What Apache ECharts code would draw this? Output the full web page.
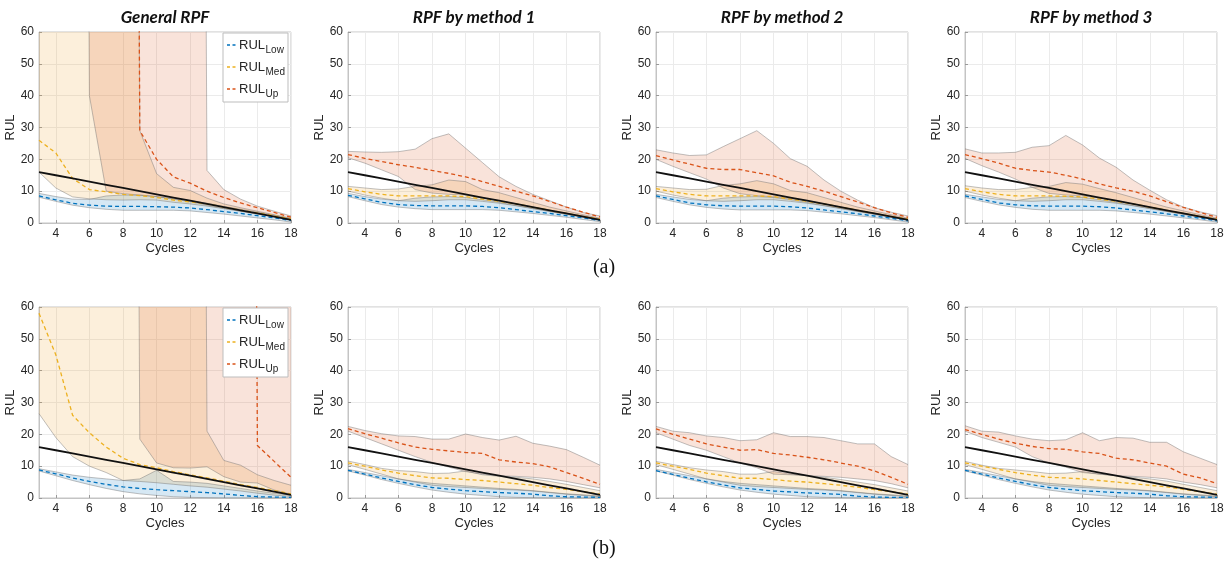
<!DOCTYPE html>
<html>
<head>
<meta charset="utf-8">
<script src="https://cdn.jsdelivr.net/npm/echarts@6/dist/echarts.min.js"></script>
<style>
  html, body { margin: 0; padding: 0; background: #fff; }
  #chart { width: 1229px; height: 566px; }
</style>
</head>
<body>
<div id="chart"></div>
<script>
// ---- data -------------------------------------------------------------
const cycles = [3, 4, 5, 6, 7, 8, 9, 10, 11, 12, 13, 14, 15, 16, 17, 18];
const OFF = 1000; // bound that runs off the top of the plot (unbounded)
const trueRUL = [16, 15, 14, 13, 12, 11, 10, 9, 8, 7, 6, 5, 4, 3, 2, 1];
const xTicks = [4, 6, 8, 10, 12, 14, 16, 18];
const panelTitles = ['General RPF', 'RPF by method 1', 'RPF by method 2', 'RPF by method 3'];
const rowTags = ['(a)', '(b)'];
const legendNames = ['RUL_Low', 'RUL_Med', 'RUL_Up'];

// (a) General RPF
const a0_lowLo  = [8.1, 6.8, 5.6, 4.8, 4.3, 4.0, 4.0, 4.0, 4.0, 3.8, 3.3, 2.8, 2.2, 1.6, 1.0, 0.3];
const a0_lowMid = [8.5, 7.3, 6.2, 5.6, 5.3, 5.2, 5.2, 5.1, 5.0, 4.7, 4.2, 3.6, 3.0, 2.3, 1.6, 0.8];
const a0_lowHi  = [9.3, 8.3, 7.5, 7.4, 8.5, 8.8, 8.7, 8.3, 7.5, 6.7, 5.6, 4.6, 3.7, 2.8, 2.0, 1.2];
const a0_medLo  = [16, 11, 8.2, 7.6, 7.3, 7.2, 7.3, 7.2, 6.5, 6.0, 5.3, 4.5, 3.7, 2.9, 2.0, 1.0];
const a0_medMid = [26, 22, 14, 10.5, 9.8, 9.0, 8.6, 8.0, 7.2, 6.6, 6.0, 5.0, 4.0, 3.2, 2.3, 1.3];
const a0_medHi  = [OFF, OFF, OFF, OFF, OFF, OFF, 29, 15.5, 11.2, 10.2, 7.8, 6.0, 4.8, 3.7, 2.6, 1.5];
const a0_upLo   = [OFF, OFF, OFF, 40, 10, 9.2, 8.8, 8.3, 7.6, 7.0, 6.2, 5.2, 4.3, 3.4, 2.4, 1.3];
const a0_upMid  = [OFF, OFF, OFF, OFF, OFF, OFF, 29, 20, 14.5, 12.5, 10, 8.0, 6.3, 4.8, 3.3, 1.8];
const a0_upHi   = [OFF, OFF, OFF, OFF, OFF, OFF, OFF, OFF, OFF, OFF, 16.5, 10.5, 7.5, 5.3, 3.7, 2.2];

// (a) RPF by method 1
const a1_lowLo  = [8.3, 7.0, 5.8, 5.0, 4.5, 4.2, 4.2, 4.2, 4.2, 4.0, 3.5, 3.0, 2.4, 1.8, 1.1, 0.4];
const a1_lowMid = [8.7, 7.6, 6.5, 5.8, 5.5, 5.4, 5.4, 5.4, 5.2, 4.8, 4.2, 3.6, 3.0, 2.3, 1.6, 0.8];
const a1_lowHi  = [9.3, 8.3, 7.5, 7.0, 7.8, 8.2, 8.3, 8.0, 7.3, 6.5, 5.5, 4.6, 3.7, 2.8, 2.0, 1.2];
const a1_medLo  = [10.0, 8.8, 7.8, 7.0, 6.8, 7.0, 7.3, 7.3, 6.8, 6.2, 5.4, 4.5, 3.6, 2.7, 1.8, 0.9];
const a1_medMid = [10.8, 9.8, 9.0, 8.5, 8.5, 8.5, 8.5, 8.3, 7.5, 6.8, 6.0, 5.0, 4.0, 3.0, 2.1, 1.2];
const a1_medHi  = [11.5, 11.0, 10.5, 10.7, 11.5, 12.0, 13.5, 13.0, 10.5, 9.5, 8.0, 6.5, 5.0, 3.8, 2.6, 1.5];
const a1_upLo   = [20.5, 18.8, 16.7, 14.6, 10.5, 9.4, 9.0, 8.8, 7.8, 7.0, 6.0, 5.0, 4.0, 3.0, 2.2, 1.2];
const a1_upMid  = [21.5, 20.3, 19.3, 18.3, 17.5, 16.5, 15.6, 14.5, 13.0, 11.5, 10.0, 8.5, 6.8, 5.0, 3.4, 1.9];
const a1_upHi   = [22.5, 22.3, 22.2, 22.4, 23.2, 26.5, 28.0, 23.5, 19.0, 14.5, 11.5, 9.0, 7.0, 5.0, 3.3, 2.2];

// (a) RPF by method 2
const a2_lowLo  = [8.0, 6.8, 5.7, 4.9, 4.4, 4.1, 4.1, 4.1, 4.1, 3.9, 3.4, 2.9, 2.3, 1.7, 1.0, 0.3];
const a2_lowMid = [8.5, 7.4, 6.3, 5.7, 5.4, 5.3, 5.3, 5.3, 5.1, 4.7, 4.1, 3.5, 2.9, 2.2, 1.5, 0.7];
const a2_lowHi  = [9.0, 8.2, 7.4, 7.0, 7.8, 8.2, 8.3, 8.0, 7.3, 6.5, 5.5, 4.6, 3.7, 2.8, 2.0, 1.2];
const a2_medLo  = [10.0, 8.8, 7.8, 7.0, 6.8, 7.0, 7.3, 7.3, 6.8, 6.2, 5.4, 4.5, 3.6, 2.7, 1.8, 0.9];
const a2_medMid = [10.8, 9.8, 9.0, 8.5, 8.5, 8.5, 8.5, 8.3, 7.5, 6.8, 6.0, 5.0, 4.0, 3.0, 2.1, 1.2];
const a2_medHi  = [11.5, 11.0, 10.5, 10.6, 11.8, 12.3, 13.3, 12.3, 10.2, 9.5, 8.0, 6.5, 5.0, 3.8, 2.6, 1.5];
const a2_upLo   = [20.0, 17.8, 15.8, 13.8, 11.0, 9.2, 8.6, 8.2, 7.6, 7.0, 6.0, 5.0, 4.0, 3.0, 2.1, 1.2];
const a2_upMid  = [21.2, 19.8, 18.5, 17.2, 16.8, 16.8, 15.8, 14.8, 12.8, 11.5, 10.0, 8.3, 6.6, 4.8, 3.2, 1.8];
const a2_upHi   = [23.0, 22.0, 21.2, 21.4, 24.0, 26.5, 29.0, 25.0, 20.2, 17.8, 13.5, 10.0, 7.2, 4.8, 3.4, 2.2];

// (a) RPF by method 3
const a3_lowLo  = [8.0, 6.8, 5.7, 4.9, 4.3, 4.0, 4.0, 4.0, 4.0, 3.8, 3.3, 2.8, 2.2, 1.6, 1.0, 0.3];
const a3_lowMid = [8.5, 7.4, 6.3, 5.7, 5.4, 5.3, 5.3, 5.3, 5.1, 4.7, 4.1, 3.5, 2.9, 2.2, 1.5, 0.7];
const a3_lowHi  = [9.0, 8.2, 7.4, 7.0, 7.8, 8.2, 8.3, 8.0, 7.3, 6.5, 5.5, 4.6, 3.7, 2.8, 2.0, 1.2];
const a3_medLo  = [10.0, 8.8, 7.8, 7.0, 6.8, 7.0, 7.3, 7.3, 6.8, 6.2, 5.4, 4.5, 3.6, 2.7, 1.8, 0.9];
const a3_medMid = [10.8, 9.8, 9.0, 8.5, 8.5, 8.5, 8.4, 8.2, 7.5, 6.8, 6.0, 5.0, 4.0, 3.0, 2.1, 1.2];
const a3_medHi  = [11.7, 11.0, 10.5, 10.5, 11.2, 11.5, 12.7, 12.2, 10.8, 9.5, 8.0, 6.5, 5.0, 3.8, 2.6, 1.5];
const a3_upLo   = [20.3, 18.0, 16.0, 13.8, 11.2, 9.3, 8.8, 8.5, 7.8, 7.0, 6.0, 5.0, 4.0, 3.0, 2.1, 1.2];
const a3_upMid  = [21.5, 20.2, 18.8, 17.2, 16.5, 16.0, 15.0, 13.8, 12.3, 11.0, 10.0, 8.5, 6.7, 4.9, 3.3, 1.8];
const a3_upHi   = [23.3, 22.0, 22.0, 22.2, 23.8, 24.3, 27.5, 24.5, 20.4, 17.5, 13.5, 10.3, 7.3, 5.0, 3.5, 2.3];

// (b) General RPF
const b0_lowLo  = [8.5, 7.0, 5.5, 4.2, 3.0, 2.0, 1.3, 0.8, 0.4, 0.2, 0.1, 0, 0, 0, 0, 0];
const b0_lowMid = [8.8, 7.6, 6.3, 5.2, 4.3, 3.5, 3.0, 2.6, 2.3, 2.0, 1.7, 1.3, 0.8, 0.4, 0.3, 0.2];
const b0_lowHi  = [9.2, 8.2, 7.2, 6.5, 6.0, 5.5, 6.0, 8.7, 5.2, 5.0, 4.6, 3.8, 3.0, 2.2, 1.5, 0.9];
const b0_medLo  = [26.5, 19.0, 13.0, 10.0, 8.0, 5.5, 5.2, 4.8, 4.3, 3.8, 3.4, 2.8, 2.2, 1.5, 0.9, 0.5];
const b0_medMid = [58, 45, 26, 20.5, 16, 12.5, 10.5, 9.5, 8.3, 7.3, 6.3, 5.3, 4.2, 3.3, 2.3, 1.3];
const b0_medHi  = [OFF, OFF, OFF, OFF, OFF, OFF, OFF, OFF, OFF, OFF, 21, 11.8, 10.3, 7.3, 5.5, 4.0];
const b0_upLo   = [OFF, OFF, OFF, OFF, OFF, OFF, 18.5, 11.0, 9.5, 9.4, 9.8, 6.7, 5.0, 4.7, 2.5, 1.2];
const b0_upMid  = [OFF, OFF, OFF, OFF, OFF, OFF, OFF, OFF, OFF, OFF, OFF, OFF, OFF, 16.5, 11.5, 6.5];
const b0_upHi   = [OFF, OFF, OFF, OFF, OFF, OFF, OFF, OFF, OFF, OFF, OFF, OFF, OFF, OFF, OFF, OFF];

// (b) RPF by method 1
const b1_lowLo  = [8.5, 7.2, 5.8, 4.6, 3.5, 2.5, 1.8, 1.2, 0.8, 0.4, 0.2, 0.1, 0, 0, 0, 0];
const b1_lowMid = [8.7, 7.5, 6.3, 5.2, 4.2, 3.3, 2.8, 2.3, 2.0, 1.7, 1.5, 1.2, 0.7, 0.4, 0.3, 0.2];
const b1_lowHi  = [9.0, 8.0, 7.0, 6.0, 5.2, 4.6, 4.2, 3.8, 3.4, 3.0, 2.7, 2.3, 1.8, 1.3, 1.0, 0.6];
const b1_medLo  = [10.5, 9.0, 7.5, 6.0, 5.0, 4.0, 3.6, 3.3, 3.0, 2.7, 2.5, 2.2, 1.7, 1.2, 0.8, 0.4];
const b1_medMid = [11.0, 10.0, 8.8, 7.8, 7.0, 6.3, 6.2, 5.8, 5.5, 5.0, 4.5, 4.0, 3.3, 2.7, 2.0, 1.2];
const b1_medHi  = [11.6, 10.5, 9.3, 8.6, 8.3, 7.7, 7.8, 8.5, 7.3, 6.8, 6.5, 6.0, 5.2, 4.3, 3.3, 2.3];
const b1_upLo   = [21.0, 19.0, 17.0, 15.0, 13.0, 11.2, 9.7, 8.3, 7.5, 7.0, 6.8, 6.5, 6.0, 5.2, 4.2, 3.2];
const b1_upMid  = [21.8, 20.2, 18.8, 17.3, 16.0, 15.3, 14.8, 14.3, 14.0, 12.0, 11.3, 10.8, 9.8, 8.0, 6.2, 4.3];
const b1_upHi   = [22.5, 21.2, 20.2, 19.5, 19.3, 18.5, 18.5, 20.1, 19.0, 18.2, 19.4, 17.2, 16.3, 15.2, 12.8, 10.3];

// (b) RPF by method 2
const b2_lowLo  = [8.5, 7.2, 5.8, 4.6, 3.5, 2.5, 1.8, 1.2, 0.8, 0.4, 0.2, 0.1, 0, 0, 0, 0];
const b2_lowMid = [8.6, 7.4, 6.2, 5.1, 4.1, 3.2, 2.7, 2.2, 1.9, 1.6, 1.4, 1.1, 0.6, 0.3, 0.2, 0.2];
const b2_lowHi  = [9.0, 8.0, 7.0, 6.0, 5.2, 4.6, 4.2, 3.8, 3.4, 3.0, 2.7, 2.3, 1.8, 1.3, 1.0, 0.6];
const b2_medLo  = [10.5, 9.0, 7.5, 6.0, 5.0, 4.0, 3.6, 3.3, 3.0, 2.7, 2.5, 2.2, 1.7, 1.2, 0.8, 0.4];
const b2_medMid = [11.0, 10.0, 9.0, 7.8, 7.0, 6.2, 6.2, 5.8, 5.3, 5.0, 4.5, 4.0, 3.4, 2.6, 2.0, 1.2];
const b2_medHi  = [11.5, 10.5, 9.5, 8.8, 8.3, 7.5, 7.5, 8.3, 7.5, 7.0, 6.5, 5.8, 5.0, 4.2, 3.2, 2.2];
const b2_upLo   = [20.5, 18.5, 16.5, 15.0, 13.0, 11.0, 9.5, 7.5, 7.3, 7.0, 6.8, 6.5, 6.0, 5.5, 4.5, 3.2];
const b2_upMid  = [21.7, 20.0, 18.5, 17.0, 16.0, 15.0, 15.2, 14.0, 13.5, 12.8, 12.0, 11.0, 10.0, 8.5, 6.5, 4.3];
const b2_upHi   = [22.5, 21.0, 20.5, 19.5, 19.0, 18.0, 18.3, 20.5, 19.3, 19.3, 19.0, 18.0, 17.0, 17.0, 13.0, 10.5];

// (b) RPF by method 3
const b3_lowLo  = [8.5, 7.2, 5.8, 4.6, 3.5, 2.5, 1.8, 1.2, 0.8, 0.4, 0.2, 0.1, 0, 0, 0, 0];
const b3_lowMid = [8.7, 7.5, 6.3, 5.2, 4.2, 3.3, 2.8, 2.3, 2.0, 1.7, 1.5, 1.2, 0.7, 0.4, 0.3, 0.2];
const b3_lowHi  = [9.0, 8.0, 7.0, 6.0, 5.2, 4.6, 4.2, 3.8, 3.4, 3.0, 2.7, 2.3, 1.8, 1.3, 1.0, 0.6];
const b3_medLo  = [10.5, 9.0, 7.5, 6.0, 5.0, 4.0, 3.6, 3.3, 3.0, 2.7, 2.5, 2.2, 1.7, 1.2, 0.8, 0.4];
const b3_medMid = [11.0, 10.0, 9.0, 8.0, 7.2, 6.5, 6.3, 6.0, 5.5, 5.0, 4.5, 4.0, 3.5, 2.7, 2.0, 1.2];
const b3_medHi  = [11.5, 10.3, 9.3, 8.8, 8.3, 7.7, 7.8, 8.3, 7.5, 7.0, 6.5, 6.0, 5.3, 4.3, 3.3, 2.3];
const b3_upLo   = [21.0, 19.0, 17.5, 16.0, 13.0, 11.0, 9.7, 8.0, 7.5, 7.0, 6.8, 6.5, 6.0, 5.0, 4.2, 3.2];
const b3_upMid  = [21.5, 20.0, 18.5, 17.2, 16.2, 15.5, 15.3, 14.5, 14.0, 12.5, 12.0, 11.0, 10.0, 7.5, 6.3, 4.5];
const b3_upHi   = [22.7, 21.0, 20.7, 19.5, 18.5, 18.0, 18.3, 20.5, 18.0, 19.0, 18.8, 17.5, 17.5, 14.5, 12.5, 10.5];

// ---- panel list (row-major: (a) then (b)) -------------------------------
const panels = [
  [a0_lowLo, a0_lowMid, a0_lowHi, a0_medLo, a0_medMid, a0_medHi, a0_upLo, a0_upMid, a0_upHi],
  [a1_lowLo, a1_lowMid, a1_lowHi, a1_medLo, a1_medMid, a1_medHi, a1_upLo, a1_upMid, a1_upHi],
  [a2_lowLo, a2_lowMid, a2_lowHi, a2_medLo, a2_medMid, a2_medHi, a2_upLo, a2_upMid, a2_upHi],
  [a3_lowLo, a3_lowMid, a3_lowHi, a3_medLo, a3_medMid, a3_medHi, a3_upLo, a3_upMid, a3_upHi],
  [b0_lowLo, b0_lowMid, b0_lowHi, b0_medLo, b0_medMid, b0_medHi, b0_upLo, b0_upMid, b0_upHi],
  [b1_lowLo, b1_lowMid, b1_lowHi, b1_medLo, b1_medMid, b1_medHi, b1_upLo, b1_upMid, b1_upHi],
  [b2_lowLo, b2_lowMid, b2_lowHi, b2_medLo, b2_medMid, b2_medHi, b2_upLo, b2_upMid, b2_upHi],
  [b3_lowLo, b3_lowMid, b3_lowHi, b3_medLo, b3_medMid, b3_medHi, b3_upLo, b3_upMid, b3_upHi]
];

// ---- styling / layout -------------------------------------------------
const FONT = '"Liberation Sans", Arial, Helvetica, sans-serif';
const TICK_COLOR = '#262626';
const colors = { low: '#0072BD', med: '#EDB120', up: '#D95319' };
const fills = {
  low: 'rgba(0,114,189,0.16)',
  med: 'rgba(237,160,40,0.17)',
  up: 'rgba(217,83,25,0.16)'
};
const EDGE = 'rgba(110,110,110,0.55)';
const colLeft = [39, 348, 656, 965];
const rowTop = [32, 307];
const plotW = 252, plotH = 191;

const pairs = arr => cycles.map((c, i) => [c, arr[i]]);

const grids = [], xAxes = [], yAxes = [], series = [];

panels.forEach((p, k) => {
  const col = k % 4, row = Math.floor(k / 4);
  grids.push({
    left: colLeft[col], top: rowTop[row], width: plotW, height: plotH,
    show: true, borderColor: '#c4c4c4', borderWidth: 1, backgroundColor: '#fff'
  });
  xAxes.push({
    gridIndex: k, type: 'value', min: 3, max: 18,
    name: 'Cycles', nameLocation: 'middle', nameGap: 19,
    nameTextStyle: { fontFamily: FONT, fontSize: 13, color: TICK_COLOR },
    axisLine: { show: true, lineStyle: { color: '#c4c4c4' } },
    axisTick: { show: true, inside: true, length: 3, customValues: xTicks, lineStyle: { color: '#9a9a9a' } },
    axisLabel: { customValues: xTicks, fontFamily: FONT, fontSize: 12, color: TICK_COLOR, margin: 5 },
    splitLine: { show: true, lineStyle: { color: '#ebebeb', width: 1 } }
  });
  yAxes.push({
    gridIndex: k, type: 'value', min: 0, max: 60, interval: 10,
    name: 'RUL', nameLocation: 'middle', nameGap: 18, nameRotate: 90,
    nameTextStyle: { fontFamily: FONT, fontSize: 13, color: TICK_COLOR },
    axisLine: { show: true, lineStyle: { color: '#c4c4c4' } },
    axisTick: { show: true, inside: true, length: 3, lineStyle: { color: '#9a9a9a' } },
    axisLabel: { fontFamily: FONT, fontSize: 12, color: TICK_COLOR, margin: 5 },
    splitLine: { show: true, lineStyle: { color: '#ebebeb', width: 1 } }
  });

  const [lowLo, lowMid, lowHi, medLo, medMid, medHi, upLo, upMid, upHi] = p;
  const base = { type: 'line', xAxisIndex: k, yAxisIndex: k, symbol: 'none', silent: true, animation: false };

  // shaded interval between lo and hi, drawn as one polygon in axis coordinates
  const band = (key, lo, hi) => {
    series.push({
      type: 'custom', xAxisIndex: k, yAxisIndex: k, silent: true, z: 1, animation: false,
      data: cycles.map((c, i) => [c, lo[i], hi[i]]),
      encode: { x: 0, y: [1, 2] },
      renderItem: (params, api) => {
        if (params.dataIndex !== 0) return null;
        const upper = cycles.map((c, i) => api.coord([c, hi[i]]));
        const lower = cycles.map((c, i) => api.coord([c, lo[i]])).reverse();
        const cs = params.coordSys;
        return {
          type: 'polygon',
          shape: { points: upper.concat(lower) },
          style: { fill: fills[key], stroke: null },
          clipPath: { type: 'rect', shape: { x: cs.x, y: cs.y, width: cs.width, height: cs.height } }
        };
      }
    });
    [lo, hi].forEach(edge => series.push(Object.assign({}, base, {
      name: 'edge', z: 2, data: pairs(edge),
      lineStyle: { color: EDGE, width: 0.8 }
    })));
  };
  band('low', lowLo, lowHi);
  band('med', medLo, medHi);
  band('up', upLo, upHi);

  const dashed = (name, key, arr) => series.push(Object.assign({}, base, {
    name, z: 3, data: pairs(arr),
    itemStyle: { color: colors[key] },
    lineStyle: { color: colors[key], width: 1.3, type: [4, 3] }
  }));
  dashed(legendNames[0], 'low', lowMid);
  dashed(legendNames[1], 'med', medMid);
  dashed(legendNames[2], 'up', upMid);

  series.push(Object.assign({}, base, {
    name: 'true', z: 4, data: pairs(trueRUL),
    lineStyle: { color: '#111', width: 1.8 }
  }));
});

// legend box for the "General RPF" panel of each row (drawn above the plot)
const legendKeys = ['low', 'med', 'up'];
const measure = (() => {
  const ctx = document.createElement('canvas').getContext('2d');
  return (txt, font) => { ctx.font = font; return ctx.measureText(txt).width; };
})();
const MAIN_FONT = '13px "Liberation Sans", Arial, sans-serif';
const SUB_FONT = '10px "Liberation Sans", Arial, sans-serif';
const legendBox = (left, top) => {
  const els = [{
    type: 'rect', z: 100, shape: { x: left, y: top, width: 65, height: 69 },
    style: { fill: '#fff', stroke: '#bdbdbd', lineWidth: 1 }
  }];
  legendNames.forEach((n, i) => {
    const cy = top + 12 + i * 22;
    const [mainTxt, subTxt] = n.split('_');
    const tx = left + 16;
    els.push({ type: 'line', z: 101, shape: { x1: left + 4, y1: cy, x2: left + 13, y2: cy },
      style: { stroke: colors[legendKeys[i]], lineWidth: 1.3, lineDash: [3, 2.5] } });
    els.push({ type: 'text', z: 101, x: tx, y: cy,
      style: { text: mainTxt, font: MAIN_FONT, fill: TICK_COLOR, textAlign: 'left', textVerticalAlign: 'middle' } });
    els.push({ type: 'text', z: 101, x: tx + measure(mainTxt, MAIN_FONT) + 0.5, y: cy + 5,
      style: { text: subTxt, font: SUB_FONT, fill: TICK_COLOR, textAlign: 'left', textVerticalAlign: 'middle' } });
  });
  return els;
};

const graphics = [];
panelTitles.forEach((t, i) => {
  graphics.push({
    type: 'text', z: 100, x: colLeft[i] + plotW / 2, y: 18,
    style: { text: t, font: 'italic bold 17px Lato, "Open Sans", sans-serif', fill: '#111', textAlign: 'center', textVerticalAlign: 'middle' }
  });
});
graphics.push({ type: 'text', z: 100, x: 604, y: 268, style: { text: rowTags[0], font: '20px "Liberation Serif", "Times New Roman", serif', fill: '#111', textAlign: 'center', textVerticalAlign: 'middle' } });
graphics.push({ type: 'text', z: 100, x: 604, y: 549, style: { text: rowTags[1], font: '20px "Liberation Serif", "Times New Roman", serif', fill: '#111', textAlign: 'center', textVerticalAlign: 'middle' } });
graphics.push(...legendBox(223, 33));
graphics.push(...legendBox(223, 308));

const chart = echarts.init(document.getElementById('chart'), null, { renderer: 'canvas' });
chart.setOption({
  backgroundColor: '#fff',
  animation: false,
  grid: grids,
  xAxis: xAxes,
  yAxis: yAxes,
  graphic: graphics,
  series
});
</script>
</body>
</html>
